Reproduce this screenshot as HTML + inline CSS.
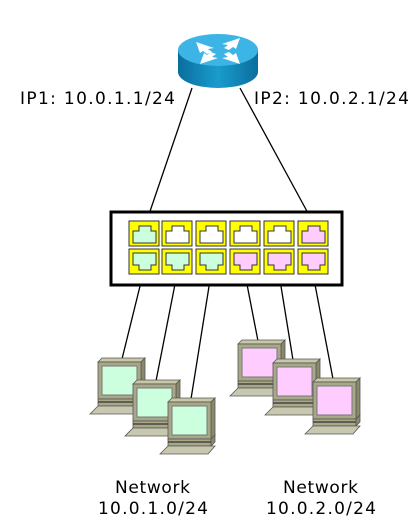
<!DOCTYPE html>
<html><head><meta charset="utf-8"><style>
html,body{margin:0;padding:0;background:#fff;}
svg{display:block}
text{font-family:"DejaVu Sans","Liberation Sans",sans-serif;font-size:17px;fill:#000}
</style></head><body>
<svg width="420" height="523" viewBox="0 0 420 523" xmlns="http://www.w3.org/2000/svg">
<defs>
<linearGradient id="rb" x1="0" x2="1" y1="0" y2="0">
<stop offset="0" stop-color="#0a6e9e"/><stop offset="0.5" stop-color="#1a9ccc"/><stop offset="1" stop-color="#0a6e9e"/>
</linearGradient>
<g id="pc">
<polygon points="0,4 4,0 47,0 43,4" fill="#c8c8a8" stroke="#555" stroke-width="0.8"/>
<polygon points="43,4 47,0 47,37 43,41" fill="#8a8a6a" stroke="#555" stroke-width="0.8"/>
<rect x="0" y="4" width="43" height="37" fill="#a8a888" stroke="#555" stroke-width="0.8"/>
<rect x="0" y="41" width="43" height="7" fill="#a8a888" stroke="#555" stroke-width="0.8"/>
<line x1="0" y1="44" x2="43" y2="44" stroke="#333" stroke-width="1.2"/>
<polygon points="43,41 47,37 47,44 43,48" fill="#8a8a6a" stroke="#555" stroke-width="0.8"/>
<polygon points="-8,56 0,48 47,48 40,56" fill="#c8c8b0" stroke="#555" stroke-width="0.8"/>
</g>
</defs>

<g stroke="#000" stroke-width="1.3">
<line x1="192" y1="88" x2="145" y2="226"/>
<line x1="240" y1="88" x2="315" y2="226"/>
<line x1="143" y1="274" x2="122" y2="359"/>
<line x1="177" y1="274" x2="156" y2="381"/>
<line x1="211" y1="274" x2="191" y2="399"/>
<line x1="245" y1="274" x2="258" y2="341"/>
<line x1="279" y1="274" x2="293" y2="360"/>
<line x1="313" y1="274" x2="333" y2="379"/>
</g>

<path d="M178,50 L178,72 A40,16 0 0 0 258,72 L258,50 Z" fill="url(#rb)"/>
<ellipse cx="218" cy="50" rx="40" ry="16" fill="#3cb4e6"/>
<g fill="#fff">
<polygon points="196,42 214,48 208,49 212,52 207,54 203,51 200,53"/>
<polygon points="240,42 222,48 228,49 224,52 229,54 233,51 236,53" transform="translate(0,-4)"/>
<polygon points="196,58 214,52 208,51 212,48 207,46 203,49 200,47" transform="translate(4,6)"/>
<polygon points="240,58 222,52 228,51 224,48 229,46 233,49 236,47" transform="translate(0,6)"/>
</g>

<rect x="111" y="212" width="231" height="73" fill="#fff" stroke="#000" stroke-width="3"/>
<g stroke="#333" stroke-width="1">
<rect x="129" y="221" width="30" height="25" fill="#ffff00"/><path d="M133,231 h6 v-5 h12 v5 h5 v12 h-23 z" fill="#ccffdd"/>
<rect x="162" y="221" width="30" height="25" fill="#ffff00"/><path d="M166,231 h6 v-5 h12 v5 h5 v12 h-23 z" fill="#fff"/>
<rect x="196" y="221" width="30" height="25" fill="#ffff00"/><path d="M200,231 h6 v-5 h12 v5 h5 v12 h-23 z" fill="#fff"/>
<rect x="230" y="221" width="30" height="25" fill="#ffff00"/><path d="M234,231 h6 v-5 h12 v5 h5 v12 h-23 z" fill="#fff"/>
<rect x="264" y="221" width="30" height="25" fill="#ffff00"/><path d="M268,231 h6 v-5 h12 v5 h5 v12 h-23 z" fill="#fff"/>
<rect x="298" y="221" width="30" height="25" fill="#ffff00"/><path d="M302,231 h6 v-5 h12 v5 h5 v12 h-23 z" fill="#ffccff"/>
<rect x="129" y="249" width="30" height="25" fill="#ffff00"/><path d="M133,253 h23 v12 h-5 v5 h-12 v-5 h-6 z" fill="#ccffdd"/>
<rect x="162" y="249" width="30" height="25" fill="#ffff00"/><path d="M166,253 h23 v12 h-5 v5 h-12 v-5 h-6 z" fill="#ccffdd"/>
<rect x="196" y="249" width="30" height="25" fill="#ffff00"/><path d="M200,253 h23 v12 h-5 v5 h-12 v-5 h-6 z" fill="#ccffdd"/>
<rect x="230" y="249" width="30" height="25" fill="#ffff00"/><path d="M234,253 h23 v12 h-5 v5 h-12 v-5 h-6 z" fill="#ffccff"/>
<rect x="264" y="249" width="30" height="25" fill="#ffff00"/><path d="M268,253 h23 v12 h-5 v5 h-12 v-5 h-6 z" fill="#ffccff"/>
<rect x="298" y="249" width="30" height="25" fill="#ffff00"/><path d="M302,253 h23 v12 h-5 v5 h-12 v-5 h-6 z" fill="#ffccff"/>
</g>

<g transform="translate(98,358)"><use href="#pc"/><rect x="4" y="8" width="35" height="29" fill="#ccffdd" stroke="#777"/></g>
<g transform="translate(133,380)"><use href="#pc"/><rect x="4" y="8" width="35" height="29" fill="#ccffdd" stroke="#777"/></g>
<g transform="translate(168,398)"><use href="#pc"/><rect x="4" y="8" width="35" height="29" fill="#ccffdd" stroke="#777"/></g>
<g transform="translate(238,340)"><use href="#pc"/><rect x="4" y="8" width="35" height="29" fill="#ffccff" stroke="#777"/></g>
<g transform="translate(273,359)"><use href="#pc"/><rect x="4" y="8" width="35" height="29" fill="#ffccff" stroke="#777"/></g>
<g transform="translate(313,378)"><use href="#pc"/><rect x="4" y="8" width="35" height="29" fill="#ffccff" stroke="#777"/></g>

<text x="20" y="104" textLength="155" lengthAdjust="spacing">IP1: 10.0.1.1/24</text>
<text x="254" y="104" textLength="155" lengthAdjust="spacing">IP2: 10.0.2.1/24</text>
<text x="115" y="493" textLength="75" lengthAdjust="spacing">Network</text>
<text x="98" y="514" textLength="110" lengthAdjust="spacing">10.0.1.0/24</text>
<text x="283" y="493" textLength="75" lengthAdjust="spacing">Network</text>
<text x="266" y="514" textLength="110" lengthAdjust="spacing">10.0.2.0/24</text>
</svg>
</body></html>
